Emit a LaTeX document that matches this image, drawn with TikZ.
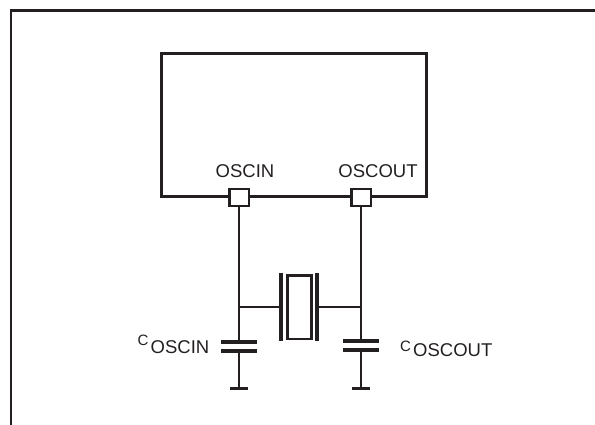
\documentclass[tikz,border=0pt]{standalone}
\usepackage{fontspec}
\setmainfont{Liberation Sans}
\usetikzlibrary{calc}
\definecolor{ink}{HTML}{231F20}
\begin{document}
\begin{tikzpicture}[x=1pt,y=-1pt,
  wire/.style={draw=ink,line width=2pt},
  frame/.style={draw=ink,line width=2.6pt},
  plate/.style={draw=ink,line width=3.6pt},
  pinbox/.style={draw=ink,line width=2.5pt,fill=white,minimum width=19.5pt,minimum height=17pt,inner sep=0pt},
  lbl/.style={text=ink,inner sep=0pt,anchor=base,font=\fontsize{18.5}{20}\selectfont},
  clbl/.style={text=ink,inner sep=0pt,anchor=base west,font=\fontsize{15}{16}\selectfont},
  slbl/.style={text=ink,inner sep=0pt,anchor=base west,font=\fontsize{18.5}{20}\selectfont}]
\useasboundingbox (0,0) rectangle (595,425);
% outer frame
\coordinate (fbl) at (11,430);
\coordinate (ftl) at (11,10.5);
\coordinate (ftr) at (600,10.5);
\draw[frame] (fbl) -- (ftl) -- (ftr);
% chip
\node[frame,minimum width=265pt,minimum height=142.5pt,inner sep=0pt] (chip) at (293.9,125) {};
% pins
\node[pinbox] (pin1) at (239,197.5) {};
\node[pinbox] (pin2) at (361,197.5) {};
\node[lbl] (l1) at (245,178) {OSCIN};
\node[lbl] (l2) at (378,178) {OSCOUT};
% crystal
\coordinate (xl1) at (281,272.7);
\coordinate (xl2) at (281,340.7);
\coordinate (xr1) at (317,272.7);
\coordinate (xr2) at (317,340.7);
\draw[draw=ink,line width=4.2pt] (xl1) -- (xl2);
\draw[draw=ink,line width=4.2pt] (xr1) -- (xr2);
\node[draw=ink,line width=2.6pt,minimum width=24pt,minimum height=63.5pt,inner sep=0pt] (xtal) at (299.3,307.2) {};
\coordinate (xjl) at (239,307.3);
\coordinate (xjr) at (361,307.3);
\coordinate (xpl) at (281,307.3);
\coordinate (xpr) at (317,307.3);
\draw[wire] (xjl) -- (xpl);
\draw[wire] (xpr) -- (xjr);
% left capacitor
\coordinate (c1t) at (239,342);
\coordinate (c1b) at (239,351);
\coordinate (g1) at (239,388.3);
\draw[wire] (pin1.south) -- (c1t);
\draw[plate] ($(c1t)+(-18,0)$) -- ($(c1t)+(18,0)$);
\draw[plate] ($(c1b)+(-18,0)$) -- ($(c1b)+(18,0)$);
\draw[wire] (c1b) -- (g1);
\draw[plate] ($(g1)+(-9,0)$) -- ($(g1)+(9,0)$);
% right capacitor
\coordinate (c2t) at (361,341);
\coordinate (c2b) at (361,350);
\coordinate (g2) at (361,388.3);
\draw[wire] (pin2.south) -- (c2t);
\draw[plate] ($(c2t)+(-18,0)$) -- ($(c2t)+(18,0)$);
\draw[plate] ($(c2b)+(-18,0)$) -- ($(c2b)+(18,0)$);
\draw[wire] (c2b) -- (g2);
\draw[plate] ($(g2)+(-9,0)$) -- ($(g2)+(9,0)$);
% capacitor labels
\node[clbl] (cc1) at (137.5,345) {C};
\node[slbl] (cs1) at (150.5,353.3) {OSCIN};
\node[clbl] (cc2) at (400,351.5) {C};
\node[slbl] (cs2) at (413,356.5) {OSCOUT};
\end{tikzpicture}
\end{document}
